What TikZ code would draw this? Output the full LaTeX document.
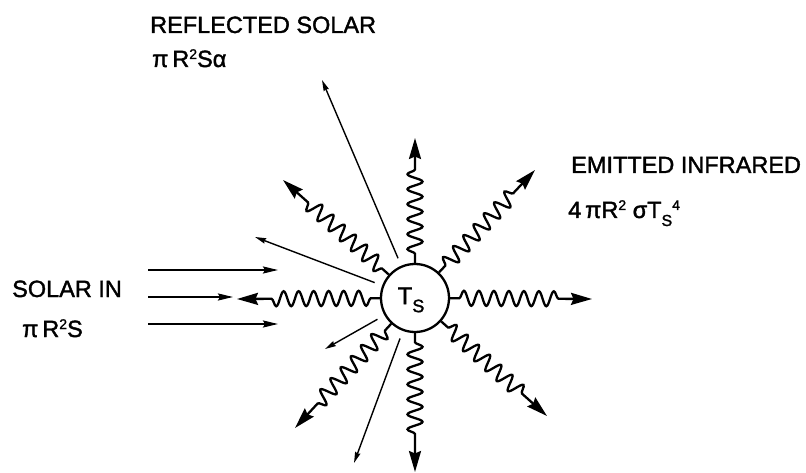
\documentclass[tikz,border=0pt]{standalone}
\usepackage{fontspec}
\setmainfont[FakeBold=1.6]{Liberation Sans}
\usetikzlibrary{decorations.pathmorphing,arrows.meta}
\newcommand{\upx}[1]{\raisebox{8pt}{\fontsize{14}{14}\selectfont #1}}
\newcommand{\dnx}[1]{\raisebox{-8pt}{\fontsize{16}{16}\selectfont #1}}
\begin{document}
\begin{tikzpicture}[x=1pt,y=-1pt,
  lbl/.style={anchor=base west, inner sep=0pt, font=\fontsize{23.5}{28}\selectfont},
  wavy/.style={line width=2.3pt, decorate,
    decoration={snake, amplitude=7.5pt, segment length=15pt, pre length=9pt, post length=31pt},
    -{Stealth[length=21pt,width=12pt,inset=2.5pt]}},
  refl/.style={line width=1.4pt, shorten <=8pt, -{Stealth[length=11pt,width=5.5pt,inset=1pt]}},
  solar/.style={line width=1.9pt, -{Stealth[length=15pt,width=7pt,inset=2pt]}},
  body/.style={circle, draw, line width=2.3pt, minimum size=68pt, inner sep=0pt, fill=white}]
\useasboundingbox (0,0) rectangle (806,473);

\node[body] (ts) at (415,298) {};
\node[inner sep=0pt, font=\fontsize{24}{28}\selectfont] (tslbl) at (411,300) {T\dnx{\fontsize{18}{18}\selectfont S}};

% emitted infrared end points
\coordinate (e0) at (592,299);
\coordinate (e45) at (535,170);
\coordinate (e90) at (415,138);
\coordinate (e135) at (283,180);
\coordinate (e180) at (237,299);
\coordinate (e225) at (295,428);
\coordinate (e270) at (415,472);
\coordinate (e315) at (547,416);
\foreach \e in {e0,e45,e90,e135,e180,e225,e270,e315}
  \draw[wavy] (ts) -- (\e);

% reflected solar
\coordinate (r1) at (322,80);
\coordinate (r2) at (255,237);
\coordinate (r3) at (325,349);
\coordinate (r4) at (354,463);
\foreach \r in {r1,r2,r3,r4}
  \draw[refl] (ts) -- (\r);

% solar in
\coordinate (s1a) at (148,270);
\coordinate (s1b) at (278,270);
\coordinate (s2a) at (148,297);
\coordinate (s2b) at (233,297);
\coordinate (s3a) at (148,324);
\coordinate (s3b) at (278,324);
\draw[solar] (s1a) -- (s1b);
\draw[solar] (s2a) -- (s2b);
\draw[solar] (s3a) -- (s3b);

% labels
\node[lbl] (reflt) at (150,33) {REFLECTED SOLAR};
\node[lbl] (reflf) at (152,67) {π\,R\upx{2}Sα};
\node[lbl] (emitt) at (571,173) {EMITTED INFRARED};
\node[lbl] (emitf) at (568,218) {4\,πR\upx{2}\ σT\dnx{S}\upx{4}};
\node[lbl] (solt) at (12,297) {SOLAR IN};
\node[lbl] (solf) at (22,337) {π\,R\upx{2}S};
\end{tikzpicture}
\end{document}
